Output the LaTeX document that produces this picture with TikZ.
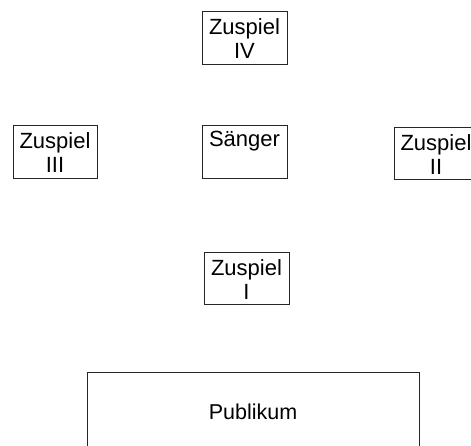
\documentclass[tikz,border=0pt]{standalone}
\usepackage{fontspec}
\setmainfont{Liberation Sans}
\begin{document}
\begin{tikzpicture}[x=1pt,y=1pt,
  box/.style={draw=black!85, line width=0.9pt},
  lbl/.style={anchor=north, inner sep=0pt, align=center, font=\fontsize{22}{24.5}\selectfont},
  ]
\useasboundingbox (0,0) rectangle (471,-446);
% boxes
\draw[box] (202,-11) rectangle (287,-64) node[midway, inner sep=0pt] (b4) {};
\draw[box] (13,-125) rectangle (97,-178) node[midway, inner sep=0pt] (b3) {};
\draw[box] (202,-125) rectangle (287,-178) node[midway, inner sep=0pt] (bs) {};
\draw[box] (394,-127) rectangle (478,-179) node[midway, inner sep=0pt] (b2) {};
\draw[box] (204,-252) rectangle (289,-304) node[midway, inner sep=0pt] (b1) {};
\draw[box] (87,-372) rectangle (419,-470) node[midway, inner sep=0pt] (bp) {};
% labels
\node[lbl] (t4) at (244.5,-18) {Zuspiel\\IV};
\node[lbl] (t3) at (55,-132) {Zuspiel\\III};
\node[lbl] (ts) at (244.5,-131) {Sänger};
\node[lbl] (t2) at (436,-134) {Zuspiel\\II};
\node[lbl] (t1) at (246.5,-259) {Zuspiel\\I};
\node[anchor=base, inner sep=0pt, font=\fontsize{21.5}{25}\selectfont] (tp) at (253,-419) {Publikum};
\end{tikzpicture}
\end{document}
